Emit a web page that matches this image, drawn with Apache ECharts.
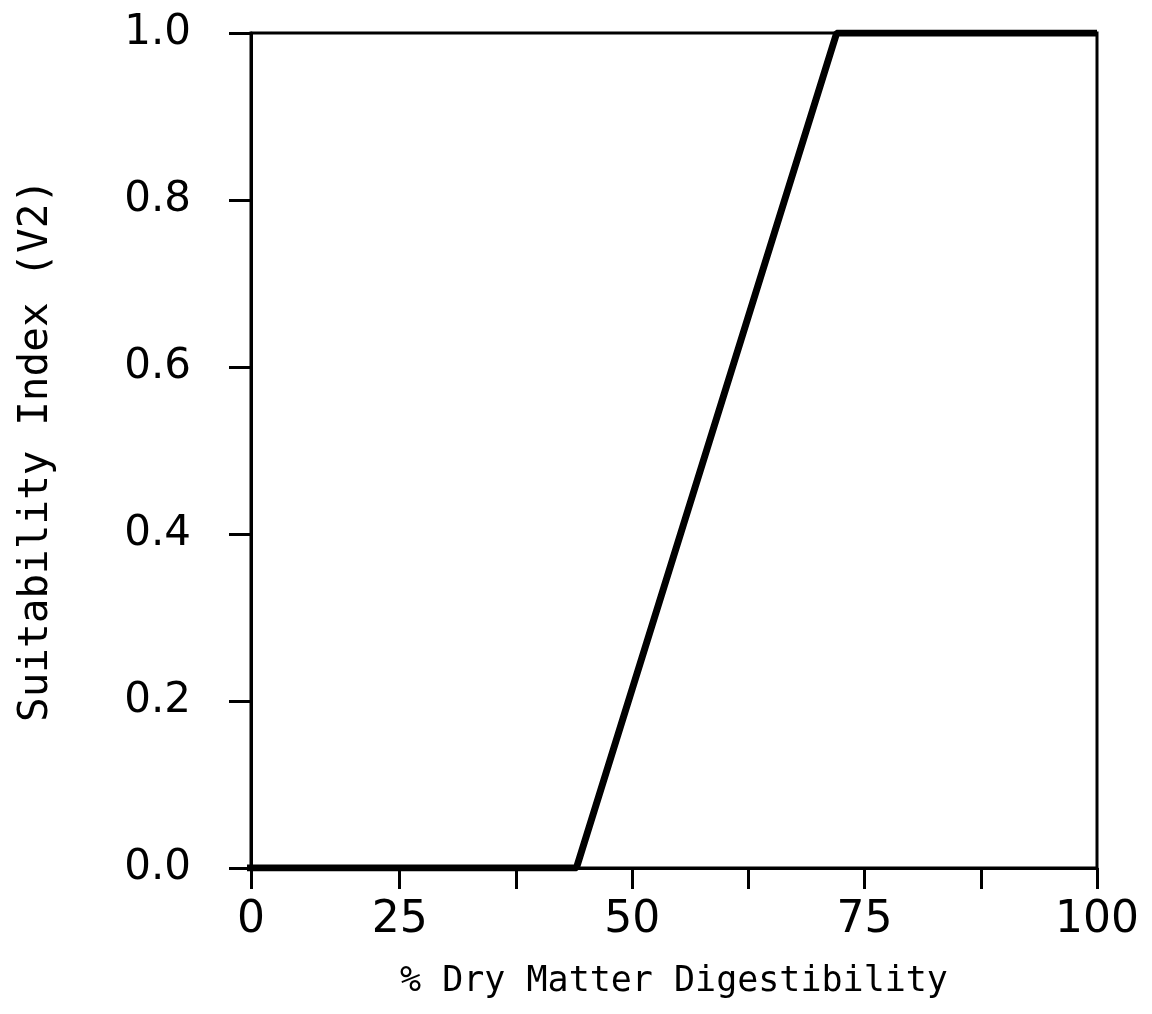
<!DOCTYPE html>
<html>
<head>
<meta charset="utf-8">
<script src="https://cdn.jsdelivr.net/npm/echarts@6/dist/echarts.min.js"></script>
<style>html,body{margin:0;padding:0;background:#fff;}#c{width:1152px;height:1014px;}</style>
</head>
<body>
<div id="c"></div>
<script>
// Data
const digestibility = [0, 44, 72, 100];
const suitability = [0, 0, 1, 1];
// Axis ticks / labels
const xAxisMin = 9;
const xAxisMax = 100;
const xTickValues = [9, 25, 37.5, 50, 62.5, 75, 87.5, 100];
const xLabelValues = [9, 25, 50, 75, 100];
const xLabelTexts = ['0', '25', '50', '75', '100'];
const yTickValues = [0, 0.2, 0.4, 0.6, 0.8, 1.0];

const chart = echarts.init(document.getElementById('c'));
const font = 'DejaVu Sans';
const titleFont = 'DejaVu Sans Mono';
chart.setOption({
  animation: false,
  backgroundColor: '#fff',
  grid: {left: 251, right: 55, top: 33, bottom: 146, outerBoundsMode: 'none', containLabel: false,
    show: true, borderColor: '#000', borderWidth: 3, backgroundColor: 'transparent'},
  xAxis: {
    type: 'value', min: xAxisMin, max: xAxisMax,
    name: '% Dry Matter Digestibility', nameLocation: 'middle', nameGap: 96,
    nameTextStyle: {fontFamily: titleFont, fontSize: 35, color: '#000'},
    axisLine: {lineStyle: {color: '#000', width: 3}},
    axisTick: {show: true, length: 21, inside: false, customValues: xTickValues, lineStyle: {color: '#000', width: 3}},
    axisLabel: {customValues: xLabelValues, margin: 31, fontFamily: font, fontSize: 44, color: '#000',
      formatter: v => xLabelTexts[xLabelValues.indexOf(v)]},
    splitLine: {show: false}
  },
  yAxis: {
    type: 'value', min: 0, max: 1, interval: 0.2,
    name: 'Suitability Index (V2)', nameLocation: 'middle', nameGap: 194, nameRotate: 90,
    nameTextStyle: {fontFamily: titleFont, fontSize: 41, color: '#000'},
    axisLine: {lineStyle: {color: '#000', width: 3}},
    axisTick: {show: true, length: 22, customValues: yTickValues, lineStyle: {color: '#000', width: 3}},
    axisLabel: {customValues: yTickValues, margin: 60, fontFamily: font, fontSize: 42, color: '#000',
      formatter: v => v.toFixed(1)},
    splitLine: {show: false}
  },
  series: [{
    type: 'line', data: digestibility.map((x, i) => [x, suitability[i]]),
    showSymbol: false, clip: true,
    lineStyle: {color: '#000', width: 7}
  }]
});
</script>
</body>
</html>
